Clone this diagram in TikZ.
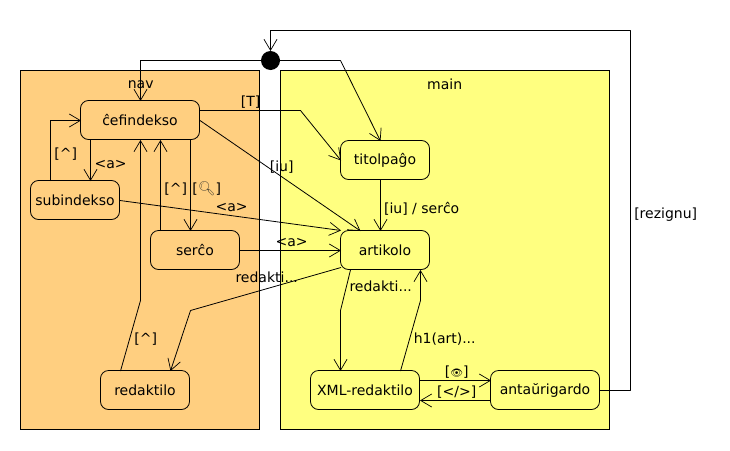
\documentclass[tikz,border=0pt]{standalone}
\usepackage{fontspec}
\setmainfont{DejaVu Sans}
\newfontfamily\emojifont{Noto Emoji}
\usetikzlibrary{arrows.meta}
\definecolor{navcolor}{RGB}{255,207,128}
\definecolor{maincolor}{RGB}{255,255,128}
\definecolor{findcolor}{RGB}{90,80,60}
\tikzset{
  region/.style={draw,line width=.8pt,outer sep=0pt},
  state/.style={draw,line width=.8pt,rounded corners=8pt,minimum height=39pt,outer sep=0pt,inner sep=0pt},
  trans/.style={->,line width=.8pt,line join=round,xshift=.5pt,yshift=-.5pt},
  px/.style={xshift=.5pt,yshift=-.5pt},
  tag/.style={inner sep=0pt,xshift=.7pt,yshift=-1.2pt}
}
\begin{document}
\begin{tikzpicture}[x=1pt,y=-1pt,>={Straight Barb[length=11pt,width=13pt,line width=.7pt]},font=\fontsize{14}{16}\selectfont]
  \useasboundingbox (0,0) rectangle (730,450);
  \node[region,fill=navcolor,minimum width=239pt,minimum height=359pt] (nav) at (140,250) {};
  \node[region,fill=maincolor,minimum width=329pt,minimum height=359pt] (main) at (445,250) {};
  \node[tag] (navname) at (140,83) {nav};
  \node[tag] (mainname) at (444,83) {main};
  \node[circle,fill=black,minimum size=19pt,inner sep=0pt,outer sep=0pt] (start) at (270.5,60.5) {};
  \node[state,minimum width=119pt] (cefindekso) at (140,120) {ĉefindekso};
  \node[state,minimum width=89pt] (subindekso) at (75,200) {subindekso};
  \node[state,minimum width=89pt] (serco) at (195,250) {serĉo};
  \node[state,minimum width=89pt] (redaktilo) at (145,390) {redaktilo};
  \node[state,minimum width=89pt] (titolpago) at (385,160) {titolpaĝo};
  \node[state,minimum width=89pt] (artikolo) at (385,250) {artikolo};
  \node[state,minimum width=109pt] (xmlredaktilo) at (365,390) {XML-redaktilo};
  \node[state,minimum width=109pt] (antaurigardo) at (545,390) {antaŭrigardo};
  \draw[trans] (start) -- (140,60) -- ([px]cefindekso.north);
  \draw[trans] (start) -- (340,60) -- ([px,xshift=-5pt]titolpago.north);
  \draw[trans] ([px,yshift=10pt]cefindekso.east) -- (300,110) -- ([px]titolpago.west);
  \draw[trans] ([px]cefindekso.east) -- ([px,xshift=-25pt]artikolo.north);
  \draw[trans] ([px,xshift=-50pt]cefindekso.south) -- ([px,xshift=15pt]subindekso.north);
  \draw[trans] ([px,xshift=-25pt]subindekso.north) -- (50,120) -- ([px]cefindekso.west);
  \draw[trans] ([px]subindekso.east) -- ([px,yshift=20pt]artikolo.west);
  \draw[trans] ([px,xshift=50pt]cefindekso.south) -- ([px,xshift=-5pt]serco.north);
  \draw[trans] ([px,xshift=-35pt]serco.north) -- ([px,xshift=20pt]cefindekso.south);
  \draw[trans] ([px]serco.east) -- ([px]artikolo.west);
  \draw[trans] ([px,xshift=-25pt]redaktilo.north) -- (140,300) -- ([px]cefindekso.south);
  \draw[trans] ([px,yshift=-17pt]artikolo.west) -- (190,310) -- ([px,xshift=25pt]redaktilo.north);
  \draw[trans] ([px,xshift=-35pt]artikolo.south) -- (340,310) -- ([px,xshift=-25pt]xmlredaktilo.north);
  \draw[trans] ([px,xshift=35pt]xmlredaktilo.north) -- (420,300) -- ([px,xshift=35pt]artikolo.south);
  \draw[trans] ([px,xshift=-5pt]titolpago.south) -- ([px,xshift=-5pt]artikolo.north);
  \draw[trans] ([px,yshift=10pt]xmlredaktilo.east) -- ([px,yshift=10pt]antaurigardo.west);
  \draw[trans] ([px,yshift=-10pt]antaurigardo.west) -- ([px,yshift=-10pt]xmlredaktilo.east);
  \draw[trans] ([px]antaurigardo.east) -- (630,390) -- (630,30) -- (270,30) -- (start);
  \node[tag] (tagt) at (250,101) {[T]};
  \node[tag] (tagiu) at (281,166) {[iu]};
  \node[tag] (taga) at (110,163) {<a>};
  \node[tag] (tagup) at (65,153) {[\^{}]};
  \node[tag] (tagb) at (231,206) {<a>};
  \node[tag] (tagupb) at (175,188) {[\^{}]};
  \node[tag] (tagfind) at (206,188) {[{\emojifont\color{findcolor}\symbol{"1F50D}}]};
  \node[tag] (tagc) at (291,241) {<a>};
  \node[tag] (tagupc) at (145,338) {[\^{}]};
  \node[tag] (tagred) at (266,276) {redakti...};
  \node[tag] (tagredb) at (380,285) {redakti...};
  \node[tag] (taghead) at (444,338) {h1(art)...};
  \node[tag] (tagserco) at (421,208) {[iu] / serĉo};
  \node[tag] (tageye) at (456,371) {[{\emojifont\fontsize{10}{12}\selectfont\symbol{"1F441}}]};
  \node[tag] (tagcode) at (456,391) {[</>]};
  \node[tag] (tagquit) at (665,213) {[rezignu]};
\end{tikzpicture}
\end{document}
